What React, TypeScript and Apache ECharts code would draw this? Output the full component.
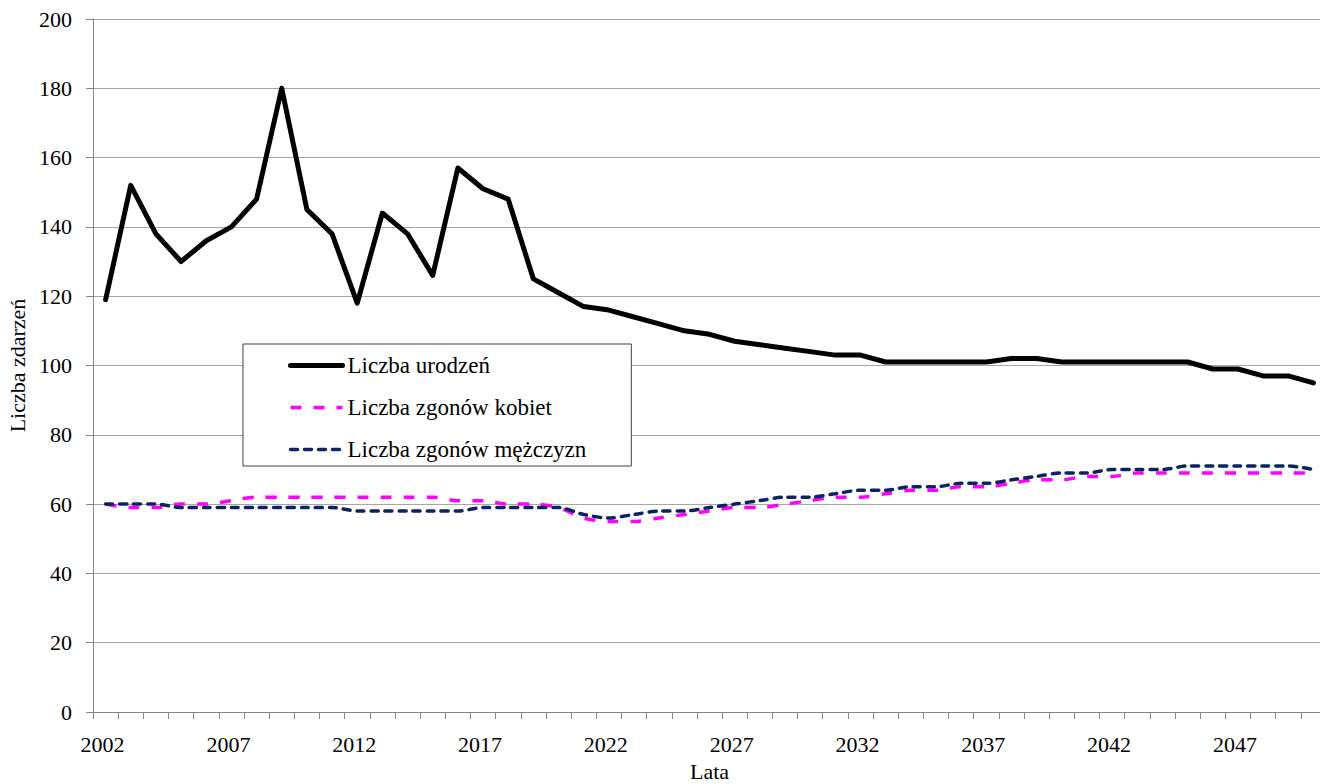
import React, { useEffect, useRef } from "react";
import * as echarts from "echarts";

const years: string[] = [];
for (let y = 2002; y <= 2050; y++) years.push(String(y));

const births = [
  119, 152, 138, 130, 136, 140, 148, 180, 145, 138,
  118, 144, 138, 126, 157, 151, 148, 125, 121, 117,
  116, 114, 112, 110, 109, 107, 106, 105, 104, 103,
  103, 101, 101, 101, 101, 101, 102, 102, 101, 101,
  101, 101, 101, 101, 99, 99, 97, 97, 95,
];

const deathsWomen = [
  60, 59, 59, 60, 60, 61, 62, 62, 62, 62,
  62, 62, 62, 62, 61, 61, 60, 60, 59, 56,
  55, 55, 56, 57, 58, 59, 59, 60, 61, 62,
  62, 63, 64, 64, 65, 65, 66, 67, 67, 68,
  68, 69, 69, 69, 69, 69, 69, 69, 69,
];

const deathsMen = [
  60, 60, 60, 59, 59, 59, 59, 59, 59, 59,
  58, 58, 58, 58, 58, 59, 59, 59, 59, 57,
  56, 57, 58, 58, 59, 60, 61, 62, 62, 63,
  64, 64, 65, 65, 66, 66, 67, 68, 69, 69,
  70, 70, 70, 71, 71, 71, 71, 71, 70,
];

const seriesNames = ["Liczba urodzeń", "Liczba zgonów kobiet", "Liczba zgonów mężczyzn"];

const FONT = "Liberation Serif";

export default function App() {
  const ref = useRef<HTMLDivElement>(null);
  useEffect(() => {
    document.body.style.margin = "0";
    const chart = echarts.init(ref.current!, null, { renderer: "svg" });
    chart.setOption({
      animation: false,
      backgroundColor: "#ffffff",
      textStyle: { fontFamily: FONT, color: "#000" },
      grid: { left: 93, right: -6, top: 19, bottom: 72, containLabel: false, outerBoundsMode: "none" },
      legend: {
        orient: "vertical",
        left: 243,
        top: 344,
        padding: [10, 45, 5, 45],
        itemGap: 19,
        itemWidth: 52,
        itemHeight: 22,
        borderColor: "#404040",
        borderWidth: 1,
        backgroundColor: "#fff",
        lineStyle: { width: "inherit" },
        itemStyle: { color: "rgba(0,0,0,0)", borderWidth: 0, opacity: 0 },
        textStyle: { fontFamily: FONT, fontSize: 23, color: "#000" },
        data: seriesNames,
      },
      xAxis: {
        type: "category",
        data: years,
        boundaryGap: true,
        name: "Lata",
        nameLocation: "middle",
        nameGap: 48,
        nameTextStyle: { fontFamily: FONT, fontSize: 22, color: "#000" },
        axisLine: { show: true, lineStyle: { color: "#868686", width: 1 } },
        axisTick: { show: true, interval: 0, length: 7, lineStyle: { color: "#868686" } },
        axisLabel: { interval: 4, margin: 21, padding: [0, 6, 0, 0], fontFamily: FONT, fontSize: 22, color: "#000" },
        splitLine: { show: false },
      },
      yAxis: {
        type: "value",
        min: 0,
        max: 200,
        interval: 20,
        name: "Liczba zdarzeń",
        nameLocation: "middle",
        nameGap: 60,
        nameTextStyle: { fontFamily: FONT, fontSize: 22, color: "#000" },
        axisLine: { show: true, lineStyle: { color: "#868686", width: 1 } },
        axisTick: { show: true, length: 7, lineStyle: { color: "#868686" } },
        axisLabel: { margin: 21, fontFamily: FONT, fontSize: 22, color: "#000" },
        splitLine: { show: true, lineStyle: { color: "#a6a6a6", width: 1 } },
      },
      series: [
        {
          name: seriesNames[0],
          type: "line",
          data: births,
          symbol: "none",
          color: "#000000",
          lineStyle: { color: "#000000", width: 5, join: "round", cap: "round" },
          z: 3,
        },
        {
          name: seriesNames[1],
          type: "line",
          data: deathsWomen,
          symbol: "none",
          smooth: 0.3,
          color: "#ff00ff",
          lineStyle: { color: "#ff00ff", width: 3.5, type: [11, 12], cap: "butt" },
          z: 2,
        },
        {
          name: seriesNames[2],
          type: "line",
          data: deathsMen,
          symbol: "none",
          smooth: 0.3,
          color: "#0b2461",
          lineStyle: { color: "#0b2461", width: 3.5, type: [7, 7], cap: "round" },
          z: 2,
        },
      ],
    });
    return () => chart.dispose();
  }, []);
  return (
    <div
      ref={ref}
      style={{ position: "absolute", left: 0, top: 0, width: 1320, height: 784 }}
    />
  );
}
